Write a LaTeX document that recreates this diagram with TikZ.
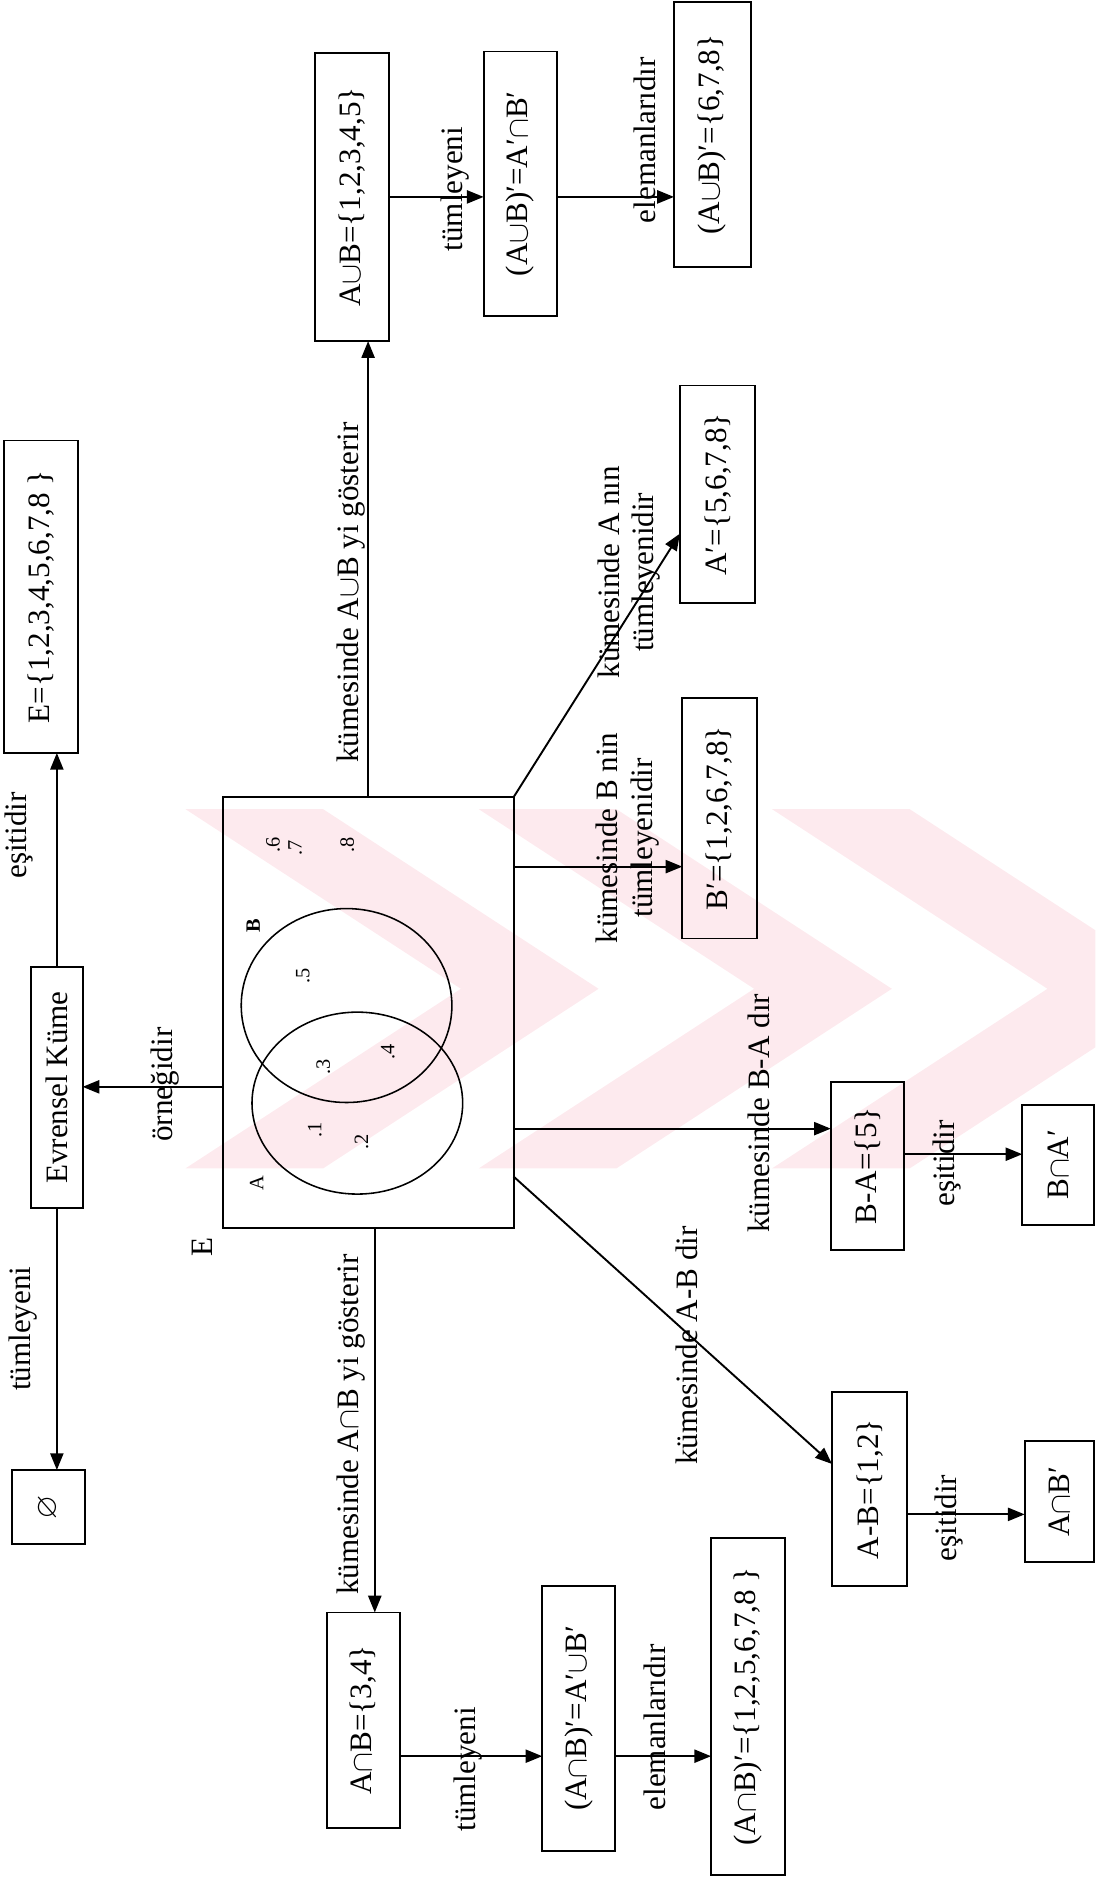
\documentclass[tikz,border=0pt]{standalone}
\usepackage{fontspec}
\usepackage{amssymb}
\setmainfont{Liberation Serif}
\usetikzlibrary{arrows.meta,calc}
\definecolor{wmark}{RGB}{253,234,238}
\begin{document}
\begin{tikzpicture}[x=1pt,y=-1pt,
  every node/.style={inner sep=0pt,outer sep=0pt},
  box/.style={draw,line width=1.6pt,rectangle,font=\fontsize{26}{30}\selectfont},
  lbl/.style={rotate=90,font=\fontsize{26}{29}\selectfont,align=center},
  elem/.style={rotate=90,font=\fontsize{17}{20}\selectfont},
  conn/.style={line width=1.6pt,-{Triangle[length=14pt,width=11pt]}},
  circ/.style={line width=1.3pt}]
\useasboundingbox (0,0) rectangle (915,1568);

% faint background emblem
\begin{scope}
  \clip (150,676) rectangle (915,978);
  \fill[wmark] (155,676) -- (270,676) -- (500,826) -- (270,976) -- (155,976) -- (385,826) -- cycle;
  \fill[wmark] (400,676) -- (515,676) -- (745,826) -- (515,976) -- (400,976) -- (630,826) -- cycle;
  \fill[wmark] (645,676) -- (760,676) -- (990,826) -- (760,976) -- (645,976) -- (875,826) -- cycle;
\end{scope}

% Venn diagram of the universal set E
\node[draw,line width=1.6pt,minimum width=243pt,minimum height=360pt] (Venn) at (307.5,846) {};
\draw[circ] (289.5,840) ellipse [x radius=88pt,y radius=81pt];
\draw[circ] (298.5,921.5) ellipse [x radius=88pt,y radius=76pt];
\node[elem] (lA) at (214.5,988.5) {A};
\node[elem] (lB) at (211.5,773) {\textbf{B}};
\node[elem] (e1) at (263,944) {.1};
\node[elem] (e2) at (302,954) {.2};
\node[elem] (e3) at (270,891.5) {.3};
\node[elem] (e4) at (324,879) {.4};
\node[elem] (e5) at (253,815) {.5};
\node[elem] (e6) at (228,706) {.6};
\node[elem] (e7) at (246.5,708) {.7};
\node[elem] (e8) at (290,706) {.8};
\node[lbl] (lE) at (169,1042) {E};

% boxes
\node[box,minimum width=62pt,minimum height=261pt] (EU) at (34,498.5) {\rotatebox{90}{E=\{1,2,3,4,5,6,7,8 \}}};
\node[box,minimum width=62pt,minimum height=241pt] (AUB) at (294,164.5) {\rotatebox{90}{A$\cup$B=\{1,2,3,4,5\}}};
\node[box,minimum width=61pt,minimum height=221pt] (AUBc) at (434.5,153.5) {\rotatebox{90}{(A$\cup$B)′=A′$\cap$B′}};
\node[box,minimum width=64pt,minimum height=221pt] (AUBel) at (595,112.5) {\rotatebox{90}{(A$\cup$B)′=\{6,7,8\}}};
\node[box,minimum width=63pt,minimum height=182pt] (Ac) at (599.5,413) {\rotatebox{90}{A′=\{5,6,7,8\}}};
\node[box,minimum width=62pt,minimum height=201pt] (Bc) at (601,683.5) {\rotatebox{90}{B′=\{1,2,6,7,8\}}};
\node[box,minimum width=43pt,minimum height=201pt] (Evr) at (47.5,908.5) {\rotatebox{90}{Evrensel Küme}};
\node[box,minimum width=61pt,minimum height=140pt] (BmA) at (724.5,974) {\rotatebox{90}{B-A=\{5\}}};
\node[box,minimum width=60pt,minimum height=100pt] (BAc) at (884,973) {\rotatebox{90}{B$\cap$A′}};
\node[box,minimum width=61pt,minimum height=62pt] (Empty) at (40.5,1259) {\rotatebox{90}{$\varnothing$}};
\node[box,minimum width=63pt,minimum height=162pt] (AmB) at (726.5,1244) {\rotatebox{90}{A-B=\{1,2\}}};
\node[box,minimum width=58pt,minimum height=101pt] (ABc) at (885,1254.5) {\rotatebox{90}{A$\cap$B′}};
\node[box,minimum width=61pt,minimum height=180pt] (AnB) at (303.5,1437) {\rotatebox{90}{A$\cap$B=\{3,4\}}};
\node[box,minimum width=61pt,minimum height=221pt] (AnBc) at (483.5,1435.5) {\rotatebox{90}{(A$\cap$B)′=A′$\cup$B′}};
\node[box,minimum width=62pt,minimum height=281pt] (AnBel) at (625,1425.5) {\rotatebox{90}{(A$\cap$B)′=\{1,2,5,6,7,8 \}}};

% connectors
\draw[conn] (Venn.north) -- (Venn.north |- AUB.south);
\draw[conn] (AUB.east) -- (AUB.east -| AUBc.west);
\draw[conn] (AUBc.east |- AUB.east) -- (AUBel.west |- AUB.east);
\draw[conn] (Venn.north east) -- ($(Ac.south west)!0.32!(Ac.north west)$);
\draw[conn] ($(Venn.north east)!0.161!(Venn.south east)$) coordinate (vb) -- (vb -| Bc.west);
\draw[conn] ($(Venn.north west)!0.672!(Venn.south west)$) coordinate (vl) -- (vl -| Evr.east);
\draw[conn] (Evr.north) -- (Evr.north |- EU.south);
\draw[conn] (Evr.south) -- (Evr.south |- Empty.north);
\draw[conn] ($(Venn.north east)!0.769!(Venn.south east)$) coordinate (vba) -- (vba -| BmA.west);
\draw[conn] ($(BmA.north east)!0.43!(BmA.south east)$) coordinate (p1) -- (p1 -| BAc.west);
\draw[conn] ($(Venn.north east)!0.88!(Venn.south east)$) -- ($(AmB.north west)!0.37!(AmB.south west)$);
\draw[conn] ($(AmB.north east)!0.63!(AmB.south east)$) coordinate (p2) -- (p2 -| ABc.west);
\draw[conn] ($(Venn.south west)!0.523!(Venn.south east)$) coordinate (vs) -- (vs |- AnB.north);
\draw[conn] ($(AnB.north east)!0.667!(AnB.south east)$) coordinate (p3) -- (p3 -| AnBc.west);
\draw[conn] (p3 -| AnBc.east) -- (p3 -| AnBel.west);

% connector labels
\node[lbl] (t1) at (293,495) {kümesinde A$\cup$B yi gösterir};
\node[lbl] (t2) at (380,158) {tümleyeni};
\node[lbl] (t3) at (539,117) {elemanlarıdır};
\node[lbl] (t4) at (15.5,698) {eşitidir};
\node[lbl] (t5) at (138,906) {örneğidir};
\node[lbl] (t6) at (19,1110) {tümleyeni};
\node[lbl] (t7) at (293,1190) {kümesinde A$\cap$B yi gösterir};
\node[lbl] (t8) at (391,1478) {tümleyeni};
\node[lbl] (t9) at (547,1443) {elemanlarıdır};
\node[lbl] (t10) at (525.5,478) {kümesinde A nın\\tümleyenidir};
\node[lbl] (t11) at (524.5,700) {kümesinde B nin\\tümleyenidir};
\node[lbl] (t12) at (634,930) {kümesinde B-A dır};
\node[lbl] (t13) at (791,972) {eşitidir};
\node[lbl] (t14) at (574,1124) {kümesinde A-B dir};
\node[lbl] (t15) at (793,1268) {eşitidir};
\end{tikzpicture}
\end{document}
